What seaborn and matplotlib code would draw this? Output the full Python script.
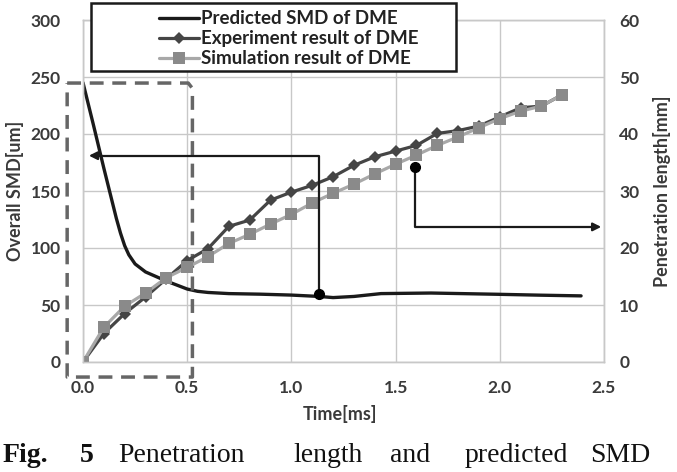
import numpy as np
import pandas as pd
import matplotlib
matplotlib.use("Agg")
import matplotlib.pyplot as plt
import seaborn as sns
from matplotlib.lines import Line2D
from matplotlib.patches import Rectangle

# predicted SMD (left axis, um)
smd_time = [0.0, 0.05, 0.1, 0.13, 0.16, 0.18, 0.2, 0.22, 0.25, 0.3, 0.35, 0.4,
            0.45, 0.5, 0.55, 0.6, 0.7, 0.85, 1.0, 1.134, 1.2, 1.3, 1.43, 1.67,
            1.99, 2.2, 2.39]
smd_value = [245, 208, 170, 148, 126, 113, 102, 94, 86, 79, 75, 71,
             67.5, 64, 62, 61, 60, 59.5, 58.7, 57.5, 56.5, 57.5, 60, 60.5,
             59.4, 58.6, 58]

# penetration length (right axis, mm)
pen_time = [0.0, 0.1, 0.2, 0.3, 0.4, 0.5, 0.6, 0.7, 0.8, 0.9, 1.0, 1.1,
            1.2, 1.3, 1.4, 1.5, 1.6, 1.7, 1.8, 1.9, 2.0, 2.1, 2.2, 2.3]
exp_len = [0, 5.0, 8.5, 11.4, 14.6, 17.8, 19.9, 23.8, 24.9, 28.4, 29.8, 31.0,
           32.5, 34.5, 36.0, 37.0, 38.0, 40.1, 40.6, 41.4, 43.0, 44.6, 44.9, 46.9]
sim_len = [0, 6.1, 9.8, 12.1, 14.8, 16.6, 18.5, 20.8, 22.4, 24.2, 25.9, 27.9,
           29.6, 31.2, 33.0, 34.7, 36.3, 38.0, 39.5, 41.1, 42.7, 44.0, 44.9, 46.9]

labels = ["Predicted SMD of DME", "Experiment result of DME", "Simulation result of DME"]
x_ticks = [0.0, 0.5, 1.0, 1.5, 2.0, 2.5]
left_ticks = [0, 50, 100, 150, 200, 250, 300]
right_ticks = [0, 10, 20, 30, 40, 50, 60]

smd_df = pd.DataFrame({"t": smd_time, "smd": smd_value})
pen_df = pd.DataFrame({"t": pen_time, "exp": exp_len, "sim": sim_len})

sns.set_style("white")
plt.rcParams["font.family"] = ["Lato", "DejaVu Sans"]

fig = plt.figure(figsize=(6.77, 4.72), dpi=100)
ax = fig.add_axes([83 / 677, 110 / 472, 521 / 677, 342 / 472])
ax2 = ax.twinx()

grid_c = "#c8c8c8"
txt_c = "#3a3a3a"

sns.lineplot(data=smd_df, x="t", y="smd", ax=ax, color="#1a1a1a", lw=2.4, sort=False)
sns.lineplot(data=pen_df, x="t", y="exp", ax=ax2, color="#454545", lw=2.3,
             marker="D", markersize=6, markeredgewidth=0, sort=False)
sns.lineplot(data=pen_df, x="t", y="sim", ax=ax2, color="#a8a8a8", lw=2.3,
             marker="s", markersize=8.5, markerfacecolor="#8a8a8a",
             markeredgewidth=0, sort=False)

ax.set_xlim(0, 2.5)
ax.set_ylim(0, 300)
ax2.set_ylim(0, 60)
ax.set_xticks(x_ticks)
ax.set_xticklabels([f"{v:.1f}" for v in x_ticks])
ax.set_yticks(left_ticks)
ax2.set_yticks(right_ticks)
ax.grid(True, color=grid_c, lw=1)
ax2.grid(False)
for a in (ax, ax2):
    for s in a.spines.values():
        s.set_color(grid_c)
        s.set_linewidth(1)
ax.tick_params(axis="y", length=0, pad=16, labelsize=12.5, labelcolor=txt_c)
ax.tick_params(axis="x", length=0, pad=13, labelsize=12.5, labelcolor=txt_c)
ax2.tick_params(axis="y", length=0, pad=11, labelsize=12.5, labelcolor=txt_c)
for lab in ax.get_xticklabels() + ax.get_yticklabels() + ax2.get_yticklabels():
    lab.set_fontweight("bold")

ax.set_xlabel("Time[ms]", fontsize=13, fontweight="bold", color=txt_c)
ax.set_ylabel("Overall SMD[um]", fontsize=13, fontweight="bold", color=txt_c)
ax2.set_ylabel("Penetration length[mm]", fontsize=13, fontweight="bold", color=txt_c)
ax.xaxis.set_label_coords(0.493, -0.125)
ax.yaxis.set_label_coords(-0.113, 0.5)
ax2.yaxis.set_label_coords(1.094, 0.5)

# dashed box around the early region
box_x = [-0.076, 0.505, 0.525, 0.525, -0.076, -0.076]
box_y = [244.7, 244.7, 240, -13.2, -13.2, 244.7]
ax2.plot(box_x, np.array(box_y) / 5, color="#666666", lw=2.5,
         linestyle=(0, (4, 2.5)), clip_on=False, zorder=1)

# arrow to left axis
ax2.plot([1.134, 1.134, 0.06], [59.8 / 5, 181 / 5, 181 / 5], color="#1a1a1a", lw=1.6)
ax2.annotate("", xy=(0.015, 181 / 5), xytext=(0.08, 181 / 5),
             arrowprops=dict(arrowstyle="-|>", color="#1a1a1a", lw=1.6, mutation_scale=12))
ax2.plot([1.134], [59.8 / 5], "o", color="black", markersize=7)

# arrow to right axis
ax2.plot([1.595, 1.595, 2.46], [34.2, 23.7, 23.7], color="#1a1a1a", lw=1.6)
ax2.annotate("", xy=(2.5, 23.7), xytext=(2.43, 23.7),
             arrowprops=dict(arrowstyle="-|>", color="#1a1a1a", lw=1.6, mutation_scale=12),
             annotation_clip=False)
ax2.plot([1.595], [34.2], "o", color="black", markersize=7)

# legend with its own frame
handles = [
    Line2D([], [], color="#1a1a1a", lw=2.4),
    Line2D([], [], color="#454545", lw=2.3, marker="D", markersize=6, markeredgewidth=0),
    Line2D([], [], color="#a8a8a8", lw=2.3, marker="s", markersize=8.5,
           markerfacecolor="#8a8a8a", markeredgewidth=0),
]
fig.patches.append(Rectangle((91 / 677, 1 - 71 / 472), 365 / 677, 68 / 472,
                             transform=fig.transFigure, facecolor="white",
                             edgecolor="#1a1a1a", lw=1.8, zorder=5))
leg = fig.legend(handles, labels, loc="upper left", bbox_to_anchor=(146 / 677, 1 + 3 / 472),
                 frameon=False, handlelength=2.1, handletextpad=0.15,
                 labelspacing=0.16, borderpad=0.2, prop={"weight": "bold", "size": 13.5})
leg.set_zorder(6)
for t in leg.get_texts():
    t.set_color("#222222")

# caption below the chart
cap_words = [("Fig.", 3, "bold"), ("5", 80, "bold"), ("Penetration", 118, "normal"),
             ("length", 293, "normal"), ("and", 390, "normal"),
             ("predicted", 465, "normal"), ("SMD", 590, "normal")]
for w, xp, fw in cap_words:
    fig.text(xp / 677, 10 / 472, w, fontsize=20, fontweight=fw, va="baseline",
             family="Liberation Serif", color="#111111")

fig.savefig("out.png", dpi=100)
